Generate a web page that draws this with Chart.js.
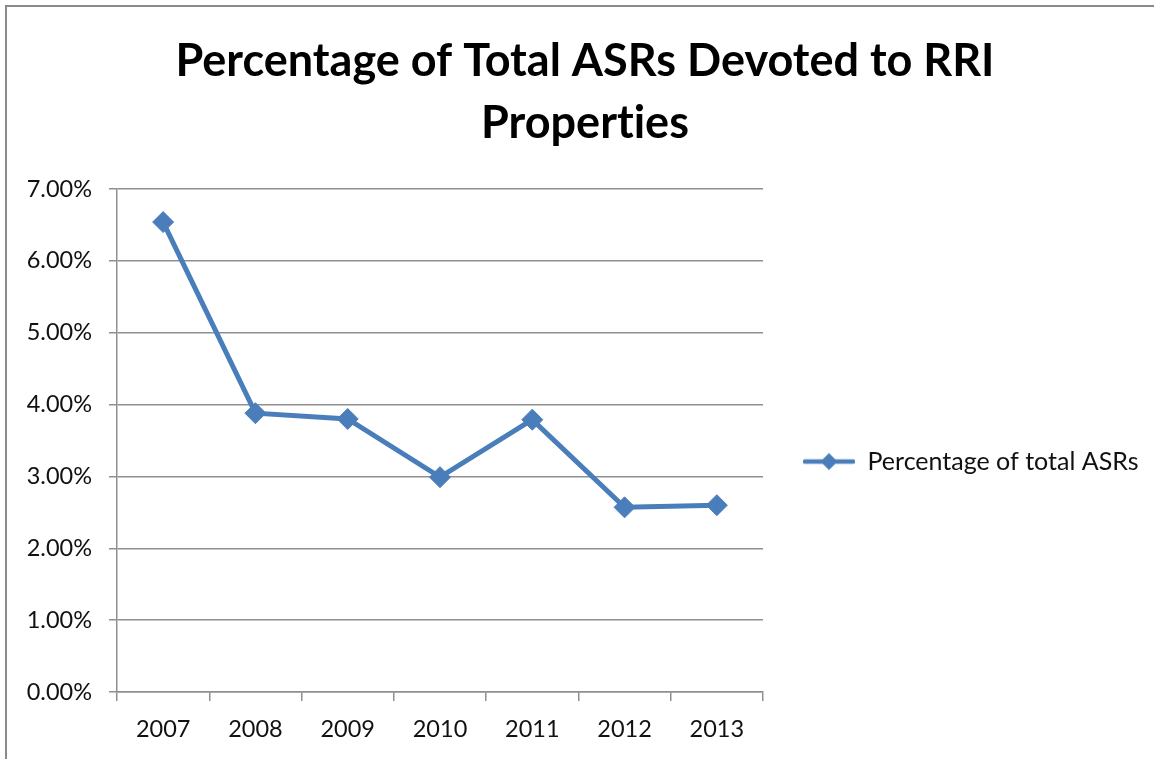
<!DOCTYPE html>
<html>
<head>
<meta charset="utf-8">
<script src="https://cdn.jsdelivr.net/npm/chart.js@4/dist/chart.umd.min.js"></script>
<style>
  html, body { margin: 0; padding: 0; background: #fff; overflow: hidden; }
  #frame { position: absolute; left: 5px; top: 5px; width: 1200px; height: 800px;
           border-top: 2px solid #8a8a8a; border-left: 2px solid #8a8a8a; }
  #chart { position: absolute; left: 0; top: 0; }
</style>
</head>
<body>
<div id="frame"></div>
<canvas id="chart" width="1154" height="759"></canvas>
<script>
// data
const years = ["2007", "2008", "2009", "2010", "2011", "2012", "2013"];
const pctOfTotal = [0.0654, 0.0388, 0.0380, 0.0299, 0.0379, 0.0257, 0.0260];
const seriesName = "Percentage of total ASRs";
const titleLines = ["Percentage of Total ASRs Devoted to RRI", "Properties"];

const BLUE = "#4a7ebb";
const GRID = "#8f8f8f";
const FONT = "Lato, 'Open Sans', sans-serif";

// legend icon: short line with a diamond in the middle
function legendIcon(){
  const c = document.createElement("canvas");
  c.width = 52; c.height = 20;
  const g = c.getContext("2d");
  g.strokeStyle = BLUE; g.lineWidth = 4.5; g.lineCap = "round";
  g.beginPath(); g.moveTo(2, 10); g.lineTo(50, 10); g.stroke();
  g.fillStyle = BLUE;
  g.beginPath(); g.moveTo(26, 1.5); g.lineTo(34.5, 10); g.lineTo(26, 18.5); g.lineTo(17.5, 10); g.closePath(); g.fill();
  return c;
}

// keep the legend column a fixed width and a bit lower, like the original;
// also switch off Lato's "ti" ligature
const legendTweak = {
  id: "legendTweak",
  afterInit(chart){
    const lg = chart.legend;
    const fit = lg.fit;
    lg.fit = function(){ fit.call(this); this.width = 391; };
  },
  afterLayout(chart){
    chart.legend.top += 42;
  },
  beforeDraw(chart){
    chart.ctx.textRendering = "optimizeSpeed";
  }
};

new Chart(document.getElementById("chart"), {
  type: "line",
  data: {
    labels: years,
    datasets: [{
      label: seriesName,
      data: pctOfTotal,
      borderColor: BLUE,
      backgroundColor: BLUE,
      borderWidth: 5,
      tension: 0,
      pointStyle: "rectRot",
      pointRadius: 10.5,
      pointBackgroundColor: BLUE,
      pointBorderColor: BLUE,
      pointBorderWidth: 1
    }]
  },
  options: {
    responsive: false,
    animation: false,
    layout: { padding: { left: 16, top: 0, right: 0, bottom: 0 } },
    scales: {
      x: {
        offset: true,
        grid: { offset: true, drawOnChartArea: false, drawTicks: true, tickLength: 9, color: GRID, lineWidth: 1.5 },
        border: { display: true, color: GRID, width: 1.5 },
        ticks: { color: "#111", padding: 14, font: { family: FONT, size: 23.5 } },
        afterFit(s){ s.height = 67; }
      },
      y: {
        min: 0, max: 0.07,
        grid: { color: GRID, lineWidth: 1.5, tickLength: 8 },
        border: { display: true, color: GRID, width: 1.5 },
        ticks: {
          stepSize: 0.01, color: "#111", padding: 17,
          font: { family: FONT, size: 23.5 },
          callback: v => (v * 100).toFixed(2) + "%"
        },
        afterFit(s){ s.width = 101; }
      }
    },
    plugins: {
      title: {
        display: true,
        text: titleLines,
        color: "#000",
        font: { family: FONT, size: 45, weight: "bold", lineHeight: 1.378 },
        padding: { top: 30, bottom: 35 }
      },
      legend: {
        position: "right",
        fullSize: false,
        labels: {
          usePointStyle: true,
          pointStyle: legendIcon(),
          pointStyleWidth: 52,
          padding: 40,
          color: "#111",
          font: { family: FONT, size: 25 }
        }
      },
      tooltip: { enabled: false }
    }
  },
  plugins: [legendTweak]
});
</script>
</body>
</html>
